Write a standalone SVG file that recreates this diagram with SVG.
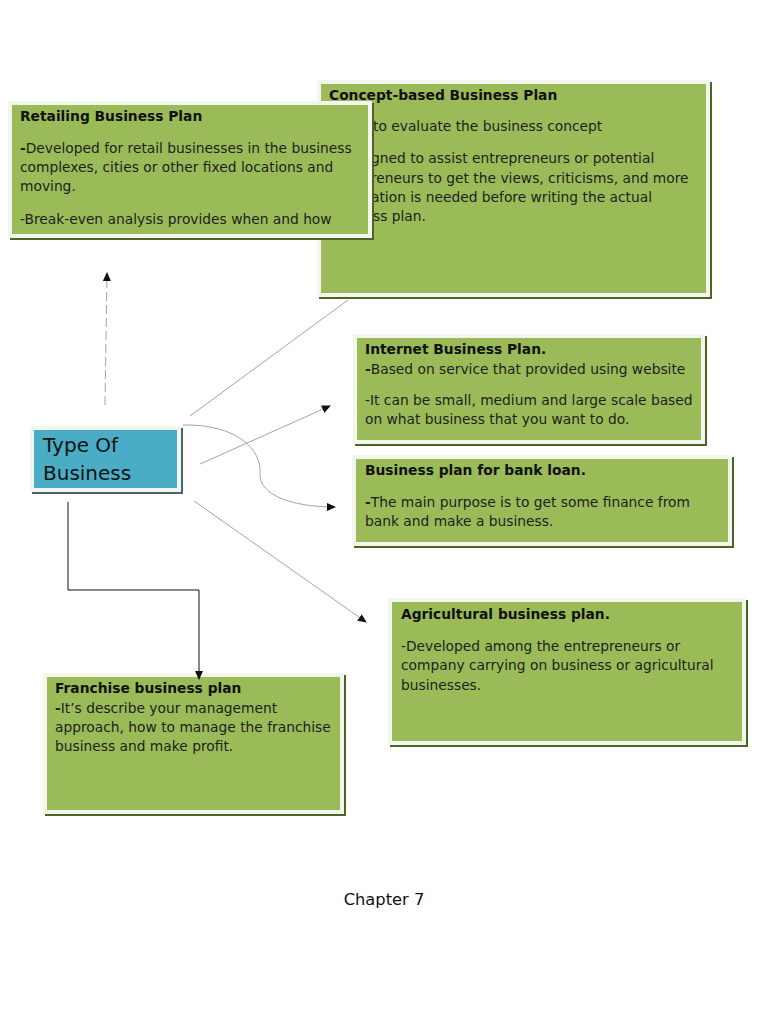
<svg xmlns="http://www.w3.org/2000/svg" width="768" height="1024" viewBox="0 0 768 1024">
<defs>
<marker id="arr" markerWidth="9" markerHeight="9" refX="8" refY="4.5" orient="auto" markerUnits="userSpaceOnUse">
<path d="M0,0.5 L9,4.5 L0,8.5 Z" fill="#111"/>
</marker>
</defs>
<style>
.sh{fill:#4f6228}
.bd{fill:#f3f6ec}
.gr{fill:#9bbb59}
.bsh{fill:#4a6470}
.bl{fill:#4bacc6}
text{font-family:"DejaVu Sans","Liberation Sans",sans-serif;font-size:13.8px;fill:#1e1e1e}
.t{font-weight:bold;fill:#111}
.b{font-weight:bold}
.big{font-size:20px;fill:#111}
.cn{fill:none;stroke:#9a9a9a;stroke-width:0.9}
</style>
<rect width="768" height="1024" fill="#fff"/>

<g id="concept">
<rect class="sh" x="319" y="82" width="393" height="217"/>
<rect class="bd" x="317" y="80" width="393" height="217"/>
<rect class="gr" x="321" y="84" width="385" height="209"/>
<text class="t" x="329" y="100">Concept-based Business Plan</text>
<text x="373" y="131">to evaluate the business concept</text>
<text x="371" y="163">gned to assist entrepreneurs or potential</text>
<text x="371" y="183">reneurs to get the views, criticisms, and more</text>
<text x="371" y="202">ation is needed before writing the actual</text>
<text x="373" y="221">ss plan.</text>
</g>

<g id="retailing">
<rect class="sh" x="10" y="103" width="364" height="137"/>
<rect class="bd" x="8" y="101" width="364" height="137"/>
<rect class="gr" x="12" y="105" width="356" height="129"/>
<text class="t" x="20" y="121">Retailing Business Plan</text>
<text x="20" y="153"><tspan class="b">-</tspan>Developed for retail businesses in the business</text>
<text x="20" y="172">complexes, cities or other fixed locations and</text>
<text x="20" y="191">moving.</text>
<text x="20" y="224">-Break-even analysis provides when and how</text>
</g>

<g id="internet">
<rect class="sh" x="355" y="336" width="352" height="110"/>
<rect class="bd" x="353" y="334" width="352" height="110"/>
<rect class="gr" x="357" y="338" width="344" height="102"/>
<text class="t" x="365" y="354">Internet Business Plan.</text>
<text x="365" y="374"><tspan class="b">-</tspan>Based on service that provided using website</text>
<text x="365" y="405">-It can be small, medium and large scale based</text>
<text x="365" y="424">on what business that you want to do.</text>
</g>

<g id="bankloan">
<rect class="sh" x="354" y="457" width="380" height="91"/>
<rect class="bd" x="352" y="455" width="380" height="91"/>
<rect class="gr" x="356" y="459" width="372" height="83"/>
<text class="t" x="365" y="475">Business plan for bank loan.</text>
<text x="365" y="507"><tspan class="b">-</tspan>The main purpose is to get some finance from</text>
<text x="365" y="526">bank and make a business.</text>
</g>

<g id="agricultural">
<rect class="sh" x="390" y="600" width="358" height="147"/>
<rect class="bd" x="388" y="598" width="358" height="147"/>
<rect class="gr" x="392" y="602" width="350" height="139"/>
<text class="t" x="401" y="619">Agricultural business plan.</text>
<text x="401" y="651">-Developed among the entrepreneurs or</text>
<text x="401" y="670">company carrying on business or agricultural</text>
<text x="401" y="690">businesses.</text>
</g>

<g id="franchise">
<rect class="sh" x="45" y="675" width="301" height="141"/>
<rect class="bd" x="43" y="673" width="301" height="141"/>
<rect class="gr" x="47" y="677" width="293" height="133"/>
<text class="t" x="55" y="693">Franchise business plan</text>
<text x="55" y="713"><tspan class="b">-</tspan>It’s describe your management</text>
<text x="55" y="732">approach, how to manage the franchise</text>
<text x="55" y="751">business and make profit.</text>
</g>

<g id="typeofbusiness">
<rect class="bsh" x="32" y="428" width="151" height="66"/>
<rect class="bd" x="30" y="426" width="151" height="66"/>
<rect class="bl" x="34" y="430" width="143" height="58"/>
<text class="big" x="43" y="452">Type Of</text>
<text class="big" x="43" y="480">Business</text>
</g>

<g id="connectors">
<line class="cn" x1="105" y1="405" x2="107" y2="273" stroke-dasharray="9,4" stroke="#aaa" marker-end="url(#arr)"/>
<line class="cn" x1="190" y1="416" x2="348" y2="300"/>
<line class="cn" x1="200" y1="464" x2="330" y2="406" marker-end="url(#arr)"/>
<path class="cn" d="M183,425 C235,424 262,448 260,474 C259,494 290,507 335,507" marker-end="url(#arr)"/>
<line class="cn" x1="194" y1="501" x2="366" y2="622" marker-end="url(#arr)"/>
<path d="M68,502 V590 H199 V679" fill="none" stroke="#111" stroke-width="1" marker-end="url(#arr)"/>
</g>

<text x="384" y="905" text-anchor="middle" style="font-size:16.3px;fill:#111">Chapter 7</text>
</svg>
